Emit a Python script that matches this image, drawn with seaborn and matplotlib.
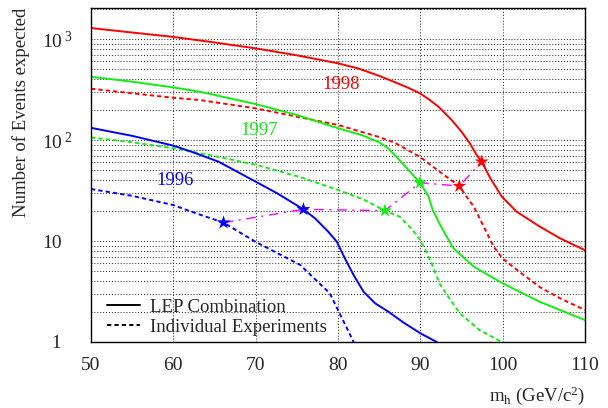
import matplotlib
matplotlib.use("Agg")
import numpy as np
import pandas as pd
import matplotlib.pyplot as plt
import seaborn as sns
from matplotlib.lines import Line2D
from matplotlib.ticker import FixedLocator, MultipleLocator, NullFormatter, LogLocator

# ---------------- data ----------------
lep98_x = [50, 55, 60, 65, 70, 75, 80, 82.5, 85, 86.9, 88.5, 89.96, 91, 92.2, 93.8, 95, 96, 96.85, 97.45, 98.5, 99.9, 101.7, 104.5, 107, 110]
lep98_y = [1285, 1160, 1050, 925, 809, 690, 575, 510, 432, 374, 330, 290, 254, 214, 158, 121, 93, 71, 61, 41.8, 27.5, 19.5, 13.9, 10.6, 8.1]

ind98_x = [50, 60, 63.2, 70, 80, 85, 86.9, 89.96, 92.6, 94.74, 95.6, 96.5, 97.7, 98.9, 100, 101.7, 104.5, 107, 110]
ind98_y = [322, 262, 249, 206, 141, 107, 94, 68, 46.8, 35, 27.5, 21.9, 13.9, 8.8, 6.7, 5.2, 3.5, 2.7, 2.07]

lep97_x = [50, 55, 60, 63.2, 70, 75, 80, 83, 85, 86, 86.9, 88.5, 89.96, 91, 91.5, 92.4, 93, 94, 96.5, 100, 104.5, 110]
lep97_y = [423, 378, 332, 301, 227, 177, 131, 111, 95, 84, 71, 51, 37.8, 27.5, 20.3, 14.5, 11.8, 8.5, 5.56, 3.81, 2.5, 1.65]

ind97_x = [50, 55, 60, 64.4, 70, 75.4, 80, 83, 85.7, 87.5, 89, 90, 91.2, 92.4, 93.4, 94.8, 97.2, 99.9]
ind97_y = [106, 95, 83, 71, 57, 43, 32, 26, 20, 17.4, 13, 10.2, 6.5, 3.7, 2.8, 1.92, 1.31, 1.0]

lep96_x = [50, 55, 60, 62.2, 65.5, 70, 72.6, 75.8, 77.2, 78.8, 79.85, 80.85, 81.9, 83.1, 84.5, 86.1, 88, 90, 92]
lep96_y = [132, 110, 88, 76.6, 61, 38.7, 29.7, 20.6, 16.8, 12.4, 9.85, 6.7, 4.6, 3.15, 2.42, 2.0, 1.55, 1.22, 1.0]

ind96_x = [50, 55, 60, 62.2, 66.1, 70, 75.4, 79.0, 80.2, 81.9]
ind96_y = [32.7, 28, 22.7, 19.5, 15.2, 9.8, 5.8, 3.04, 1.92, 1.0]

star_x = [66.1, 75.8, 85.7, 89.96, 94.74, 97.45]
star_y = [15.2, 20.6, 20.0, 37.8, 35.0, 61.0]
star_year = ["1996", "1996", "1997", "1997", "1998", "1998"]

year_labels = ["1998", "1997", "1996"]
year_label_x = [80.37, 70.37, 60.26]
year_label_y = [355, 125.6, 39.5]

ytick_vals = [1, 10, 100, 1000]
ytick_text = ["\u20071", "10", r"$\mathregular{10^{\ 2}}$", r"$\mathregular{10^{\ 3}}$"]
xtick_vals = [50, 60, 70, 80, 90, 100, 110]

legend_labels = ["LEP Combination", "Individual Experiments"]

# ---------------- build table ----------------
rows = []
for xs, ys, yr, kind in [
    (lep98_x, lep98_y, "1998", "LEP Combination"),
    (ind98_x, ind98_y, "1998", "Individual Experiments"),
    (lep97_x, lep97_y, "1997", "LEP Combination"),
    (ind97_x, ind97_y, "1997", "Individual Experiments"),
    (lep96_x, lep96_y, "1996", "LEP Combination"),
    (ind96_x, ind96_y, "1996", "Individual Experiments"),
]:
    for a, b in zip(xs, ys):
        rows.append({"mh": a, "events": b, "year": yr, "kind": kind})
df = pd.DataFrame(rows)
stars = pd.DataFrame({"mh": star_x, "events": star_y, "year": star_year})

colors = {"1998": "#ff0000", "1997": "#11ee11", "1996": "#0000ff"}

# ---------------- style ----------------
sns.set_style("white")
plt.rcParams["font.family"] = ["Liberation Serif", "DejaVu Serif"]
plt.rcParams["mathtext.fontset"] = "custom"
plt.rcParams["mathtext.rm"] = "Liberation Serif"
plt.rcParams["mathtext.it"] = "Liberation Serif:italic"

fig = plt.figure(figsize=(6.08, 4.08), dpi=100)
ax = fig.add_axes([91 / 608, 1 - 342 / 408, 494 / 608, 334 / 408])

sns.lineplot(data=df, x="mh", y="events", hue="year", style="kind",
             palette=colors,
             dashes={"LEP Combination": "", "Individual Experiments": (2.2, 1.6)},
             estimator=None, sort=True, legend=False, lw=1.4, ax=ax)

sns.lineplot(x=star_x, y=star_y, color="#ff00ff", lw=1.0,
             linestyle=(0, (7, 4, 1.5, 4)), estimator=None, ax=ax, zorder=3)

sns.scatterplot(data=stars, x="mh", y="events", hue="year", palette=colors,
                marker="*", s=110, linewidth=0, legend=False, ax=ax, zorder=5)

ax.set_yscale("log")
ax.set_xlim(50, 110)
ax.set_ylim(1, 2030)

# ticks
ax.xaxis.set_major_locator(FixedLocator(xtick_vals))
ax.xaxis.set_minor_locator(MultipleLocator(2))
ax.yaxis.set_major_locator(FixedLocator(ytick_vals))
ax.yaxis.set_minor_locator(LogLocator(base=10, subs=np.arange(2, 10), numticks=20))
ax.yaxis.set_minor_formatter(NullFormatter())
ax.set_yticklabels(ytick_text)
ax.set_xticklabels([str(v) for v in xtick_vals])

ax.tick_params(axis="x", which="major", direction="out", length=7, width=1, labelsize=14, pad=4)
ax.tick_params(axis="x", which="minor", direction="out", length=3.5, width=0.8)
ax.tick_params(axis="y", which="major", direction="out", length=7, width=1.2, labelsize=14, pad=28)
ax.tick_params(axis="y", which="minor", direction="out", length=2, width=0.6)
for lab in ax.get_yticklabels():
    lab.set_horizontalalignment("left")

# grid
ax.xaxis.grid(True, which="major", linestyle=(0, (1, 2)), color="#222222", lw=0.7)
ax.yaxis.grid(True, which="both", linestyle=(0, (1, 2)), color="#222222", lw=0.7)
ax.set_axisbelow(True)

for s in ax.spines.values():
    s.set_color("black")
    s.set_linewidth(1.0)

# labels
ax.set_ylabel("Number of Events expected", fontsize=13.5, loc="top", labelpad=9)
ax.set_xlabel(r"$\mathregular{m_h}$ (GeV/c$\mathregular{^2}$)", fontsize=13.5, loc="right", labelpad=7)

for t, xx, yy in zip(year_labels, year_label_x, year_label_y):
    ax.text(xx, yy, t, color=colors[t], fontsize=13.5, ha="center", va="center")

handles = [Line2D([], [], color="black", lw=1.4),
           Line2D([], [], color="black", lw=1.4, linestyle=(0, (2.2, 1.6)))]
ax.legend(handles, legend_labels, loc="lower left", bbox_to_anchor=(0.032, 0.018),
          frameon=False, fontsize=13.5, handlelength=1.75, handletextpad=0.55,
          borderpad=0, borderaxespad=0, labelspacing=0.15)

fig.savefig("out.png", dpi=100)
